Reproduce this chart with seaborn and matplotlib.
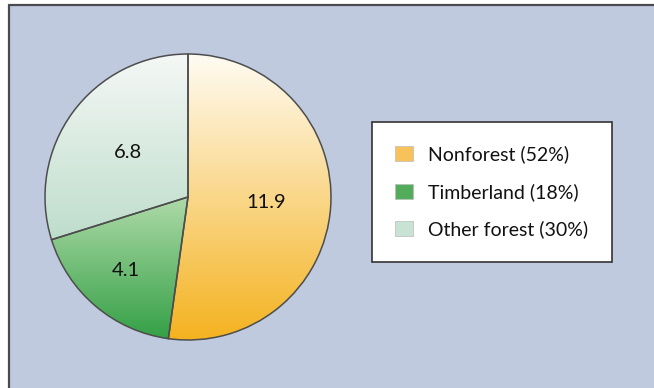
import numpy as np
import seaborn as sns
import matplotlib.pyplot as plt
from matplotlib.patches import Patch, Rectangle
from matplotlib.lines import Line2D

sns.set_style("white")
plt.rcParams['font.family'] = ['Lato', 'DejaVu Sans']

# data
categories = ["Nonforest", "Timberland", "Other forest"]
values = [11.9, 4.1, 6.8]
shares = [52, 18, 30]
value_labels = ["11.9", "4.1", "6.8"]

# gradients top -> bottom for each slice, and legend swatches
grad_top = ["#FFFCF4", "#AEDAA8", "#F5F8F6"]
grad_bot = ["#F4B21F", "#34A046", "#BEDDCB"]
swatch = ["#F8C25A", "#52AC5B", "#C8E3D4"]
label_r = [0.55, 0.67, 0.52]

fig = plt.figure(figsize=(6.54, 3.88), dpi=100)
W, H = 654, 388

# background panel with top/left rule
fig.add_artist(Rectangle((9 / W, 0), 1, (H - 5) / H, transform=fig.transFigure,
                         facecolor="#BFCADF", edgecolor="none", zorder=0))
fig.add_artist(Line2D([9 / W, 1], [(H - 5) / H] * 2, transform=fig.transFigure,
                      color="#4a4a50", lw=1.6))
fig.add_artist(Line2D([9 / W] * 2, [0, (H - 5) / H], transform=fig.transFigure,
                      color="#4a4a50", lw=1.6))

cx, cy, r = 188, 197, 143
pad = 1.03
ax = fig.add_axes([(cx - r * pad) / W, (H - cy - r * pad) / H,
                   2 * r * pad / W, 2 * r * pad / H])

wedges, _ = ax.pie(values, startangle=90, counterclock=False, radius=1,
                   wedgeprops=dict(facecolor="none", edgecolor="#4d4d4d", linewidth=1.1))

grad = np.linspace(0, 1, 256).reshape(-1, 1)
for w, top, bot, lab, lr in zip(wedges, grad_top, grad_bot, value_labels, label_r):
    cmap = sns.blend_palette([top, bot], as_cmap=True)
    ys = w.get_path().vertices[:, 1]
    im = ax.imshow(grad, cmap=cmap, extent=(-1, 1, ys.min(), ys.max()),
                   origin="upper", aspect="auto", zorder=1)
    im.set_clip_path(w)
    w.set_zorder(2)
    mid = np.deg2rad((w.theta1 + w.theta2) / 2)
    ax.text(lr * np.cos(mid), lr * np.sin(mid), lab, ha="center", va="center",
            fontsize=14.5, color="#111111", zorder=3)
ax.set_xlim(-pad, pad)
ax.set_ylim(-pad, pad)
ax.axis("off")

handles = [Patch(facecolor=c, edgecolor="#bbbbbb", lw=0.5) for c in swatch]
labels = [f"{c} ({s}%)" for c, s in zip(categories, shares)]
leg = fig.legend(handles, labels, loc="center",
                 bbox_to_anchor=(492 / W, 1 - 192 / H), fontsize=14,
                 frameon=True, fancybox=False, framealpha=1,
                 edgecolor="#333333", handlelength=0.9, handleheight=0.8,
                 handletextpad=0.8, labelspacing=1.0, borderpad=1.2,
                 borderaxespad=0)
leg.get_frame().set_linewidth(1.2)
for t in leg.get_texts():
    t.set_color("#111111")

fig.savefig("out.png", dpi=100)
